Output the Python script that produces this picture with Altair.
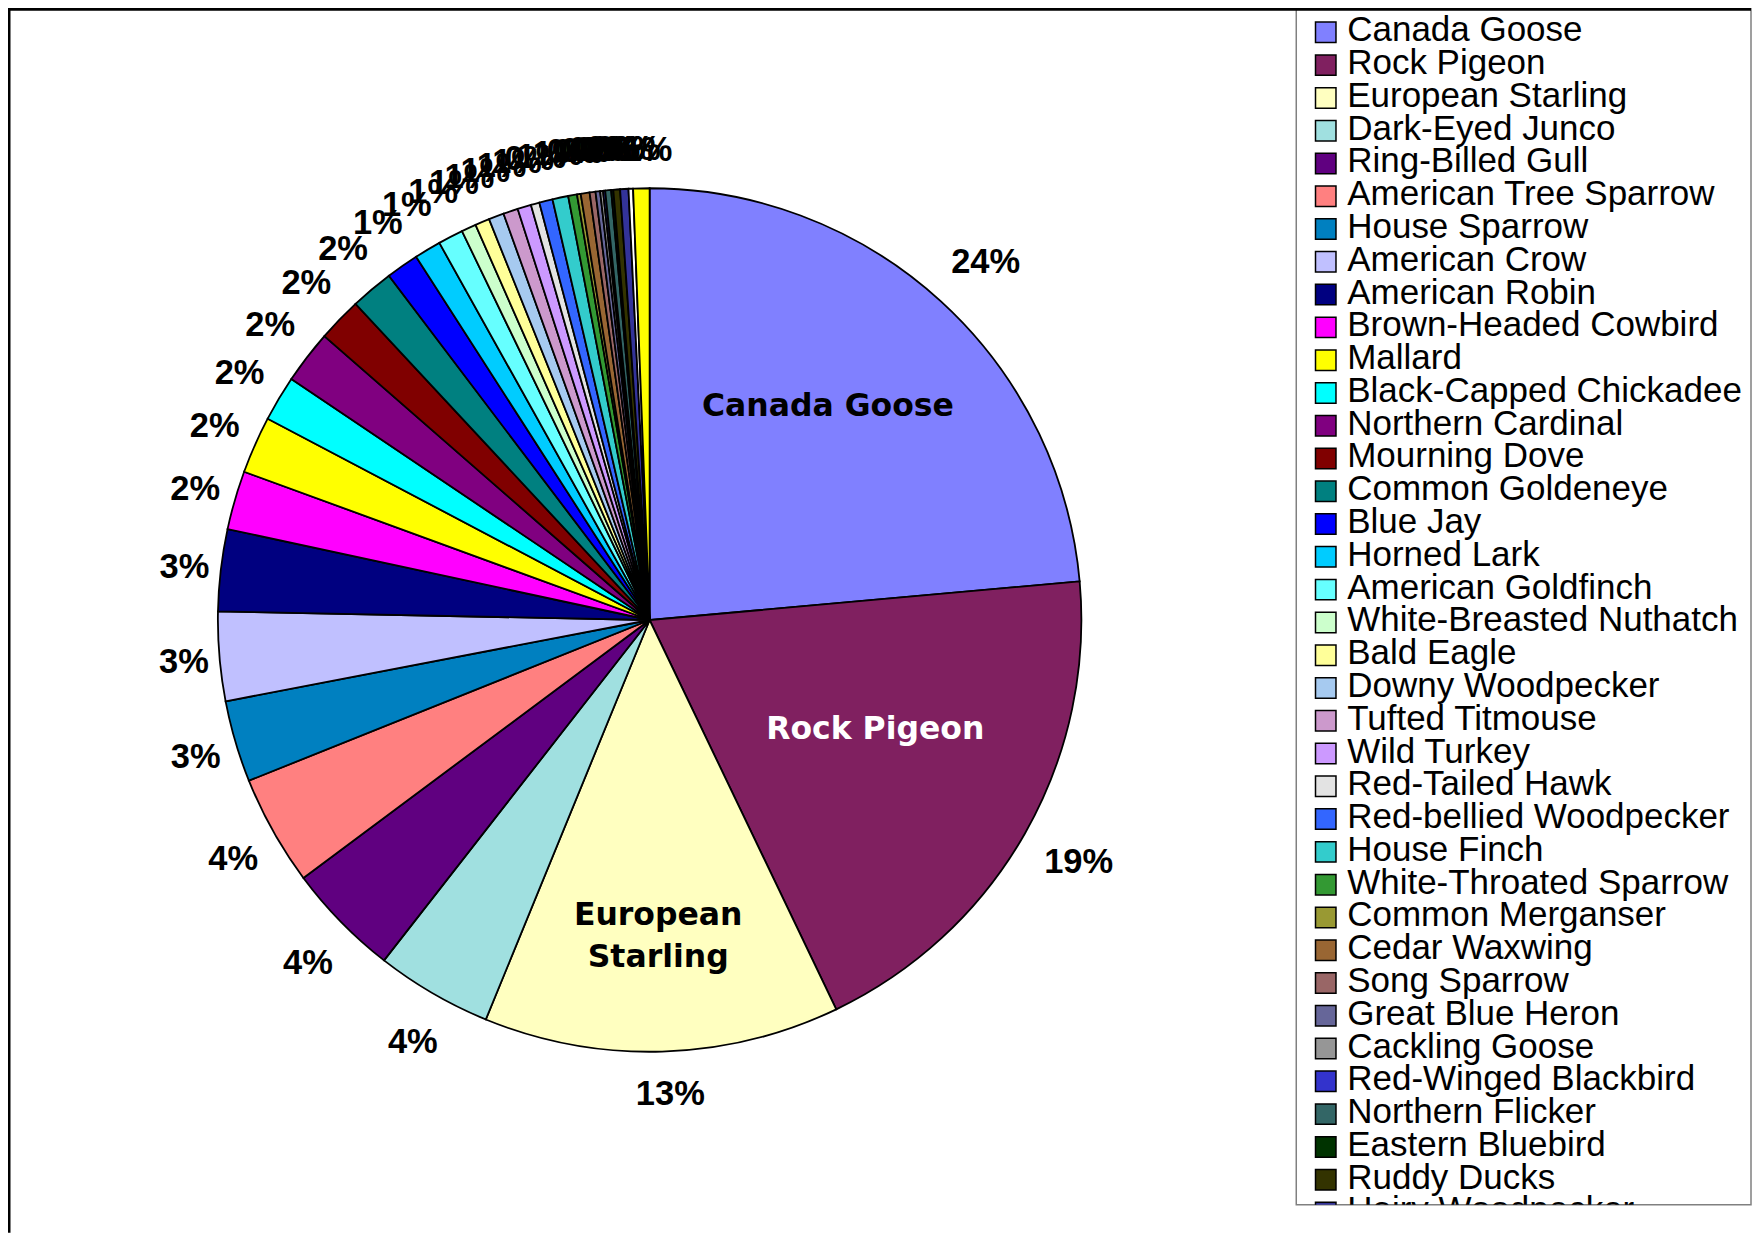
import altair as alt
import pandas as pd

species = [
    "Canada Goose", "Rock Pigeon", "European Starling", "Dark-Eyed Junco", "Ring-Billed Gull",
    "American Tree Sparrow", "House Sparrow", "American Crow", "American Robin", "Brown-Headed Cowbird",
    "Mallard", "Black-Capped Chickadee", "Northern Cardinal", "Mourning Dove", "Common Goldeneye",
    "Blue Jay", "Horned Lark", "American Goldfinch", "White-Breasted Nuthatch", "Bald Eagle",
    "Downy Woodpecker", "Tufted Titmouse", "Wild Turkey", "Red-Tailed Hawk", "Red-bellied Woodpecker",
    "House Finch", "White-Throated Sparrow", "Common Merganser", "Cedar Waxwing", "Song Sparrow",
    "Great Blue Heron", "Cackling Goose", "Red-Winged Blackbird", "Northern Flicker", "Eastern Bluebird",
    "Ruddy Ducks", "Hairy Woodpecker", "Unlisted A", "Unlisted B",
]
share = [
    23.56, 19.30, 13.30, 4.35, 4.26,
    4.12, 3.05, 3.33, 3.06, 2.20,
    2.14, 1.70, 2.00, 1.65, 1.61,
    1.22, 1.00, 0.94, 0.55, 0.54,
    0.57, 0.55, 0.51, 0.32, 0.50,
    0.59, 0.33, 0.14, 0.33, 0.22,
    0.17, 0.11, 0.08, 0.22, 0.08,
    0.25, 0.31, 0.17, 0.61,
]
colors = [
    "#8080FF", "#802060", "#FFFFC0", "#A0E0E0", "#600080",
    "#FF8080", "#0080C0", "#C0C0FF", "#000080", "#FF00FF",
    "#FFFF00", "#00FFFF", "#800080", "#800000", "#008080",
    "#0000FF", "#00CCFF", "#66FFFF", "#CCFFCC", "#FFFF99",
    "#A6CAF0", "#CC99CC", "#CC99FF", "#E3E3E3", "#3366FF",
    "#33CCCC", "#339933", "#999933", "#996633", "#996666",
    "#666699", "#969696", "#3333CC", "#336666", "#003300",
    "#333300", "#333399", "#FFFFFF", "#FFFF00",
]
legend_rows = 37  # entries drawn in the (clipped) legend box

total = sum(share)
df = pd.DataFrame({
    "idx": list(range(len(species))),
    "species": species,
    "share": share,
    "label": [f"{round(v / total * 100)}%" for v in share],
})

W, H = 1744, 1197
CX, CY, R = 642, 612, 432

color = alt.Color("species:N", scale=alt.Scale(domain=species, range=colors), legend=None)
theta = alt.Theta("share:Q", stack=True)
order = alt.Order("idx:Q", sort="ascending")

base = alt.Chart(df).encode(theta=theta, order=order, x=alt.value(CX), y=alt.value(CY))

pie = base.mark_arc(outerRadius=R, stroke="black", strokeWidth=1.8).encode(color=color)

# outside labels: mid-angle of each slice, distance depending a little on direction
pct = alt.Chart(df).transform_joinaggregate(tot="sum(share)").transform_window(
    cum="sum(share)", sort=[alt.SortField("idx")], frame=[None, 0]
).transform_calculate(
    mid="(datum.cum - datum.share / 2) / datum.tot * 2 * PI",
    rr="472 + 16 * abs(sin(2 * datum.mid))",
).mark_text(font="Liberation Sans", fontSize=34.5, fontWeight="bold", dx=7, dy=3,
            color="black", align="center", baseline="middle").encode(
    x=alt.value(CX), y=alt.value(CY),
    theta=alt.Theta("mid:Q", scale=None),
    radius=alt.Radius("rr:Q", scale=None),
    text="label:N")


def inner(name, radius, toff, col, txt):
    return base.transform_calculate(
        t=f"datum.species == '{name}' ? '{txt}' : ''"
    ).mark_text(radius=radius, thetaOffset=toff, font="DejaVu Sans", fontSize=31.5,
                fontWeight="bold", color=col, align="center", baseline="middle",
                lineBreak="|", lineHeight=42).encode(text="t:N")


lab1 = inner("Canada Goose", 278, -0.044, "black", "Canada Goose")
lab2 = inner("Rock Pigeon", 251, -0.065, "white", "Rock Pigeon")
lab3 = inner("European Starling", 296, 0.0, "black", "European|Starling")

box = alt.Chart(alt.Data(values=[{}])).mark_rect(
    fill="white", stroke="#808080", strokeWidth=1.5
).encode(x=alt.value(1289), x2=alt.value(W), y=alt.value(-2), y2=alt.value(H))

d0 = -24 / 32.8
d1 = d0 + H / 32.8
ys = alt.Y("idx:Q", scale=alt.Scale(domain=[d0, d1], range=[0, H], nice=False, zero=False), axis=None)

leg = alt.Chart(df).transform_filter(f"datum.idx < {legend_rows}")
leg_sq = leg.mark_square(size=420, opacity=1, filled=True, stroke="black", strokeWidth=1.5,
                         clip=True).encode(x=alt.value(1318.5), y=ys, color=color)
leg_tx = leg.mark_text(align="left", baseline="middle", font="Liberation Sans", fontSize=35,
                       color="black", dy=-2, clip=True).encode(x=alt.value(1340), y=ys,
                                                               text="species:N")

frame_l = alt.Chart(alt.Data(values=[{}])).mark_rule(color="black", strokeWidth=3).encode(
    x=alt.value(1), y=alt.value(0), y2=alt.value(1225))
frame_t = alt.Chart(alt.Data(values=[{}])).mark_rule(color="black", strokeWidth=3).encode(
    y=alt.value(1), x=alt.value(0), x2=alt.value(W))

chart = alt.layer(
    pie, pct, lab1, lab2, lab3, box, leg_sq, leg_tx, frame_l, frame_t
).properties(
    width=W, height=H, autosize="none", background="white",
    padding={"left": 0, "top": 0, "right": 1, "bottom": 28},
).configure_view(strokeWidth=0, stroke=None)

chart.save("out.html", embed_options={"renderer": "svg", "actions": False})
